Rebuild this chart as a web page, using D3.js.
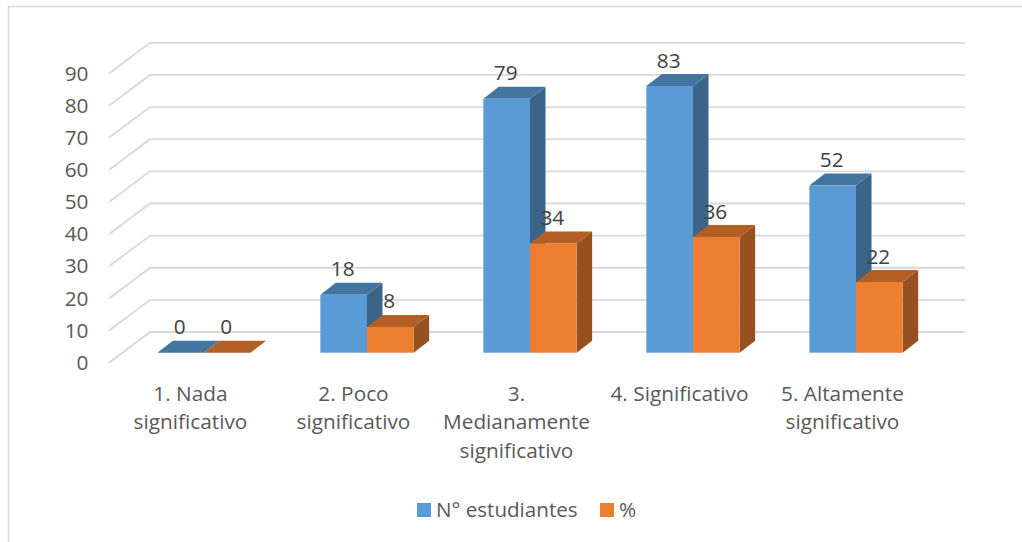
<!DOCTYPE html>
<html><head><meta charset="utf-8">
<script src="https://cdn.jsdelivr.net/npm/d3@7"></script>
<style>html,body{margin:0;padding:0;background:#fff;overflow:hidden}svg{display:block}text{font-family:"Open Sans",sans-serif}</style>
</head><body><svg id="c" width="1022" height="542"></svg>
<script>
const categories = ["1. Nada significativo","2. Poco significativo","3. Medianamente significativo","4. Significativo","5. Altamente significativo"];
const categoryLines = [["1. Nada","significativo"],["2. Poco","significativo"],["3.","Medianamente","significativo"],["4. Significativo"],["5. Altamente","significativo"]];
const students = [0,18,79,83,52];
const percent = [0,8,34,36,22];
const seriesNames = ["N° estudiantes","%"];
const yTicks = [0,10,20,30,40,50,60,70,80,90];
const fills = [{front:"#5b9bd5",top:"#4475a0",side:"#3a6589"},{front:"#ed7d31",top:"#b25e24",side:"#97501f"}];

const svg = d3.select("#c");
const FS = 20.8;
// frame
svg.append("path").attr("d","M8.5,542V6.5H1022").attr("fill","none").attr("stroke","#d9d9d9").attr("stroke-width",1.5);

// scales: front plane of the 3D box
const x0 = 109, x1 = 924, yBase = 362.7;
const x = d3.scaleBand().domain(categories).range([x0,x1]);
const xs = d3.scaleBand().domain(seriesNames).range([0,93.3]);
const unit = 3.213;
const y = d3.scaleLinear().domain([0,90]).range([yBase,yBase-90*unit]);
const dep = {dx:41,dy:-30.7};            // full box depth
const barOff = {dx:13.5,dy:-10};         // bar front plane
const barDep = {dx:15.5,dy:-12};         // bar depth

// gridlines
const grid = svg.append("g").attr("fill","none").attr("stroke","#d9d9d9").attr("stroke-width",1.8);
yTicks.forEach(t=>{
  grid.append("path").attr("d",`M${x0},${y(t)}L${x0+dep.dx},${y(t)+dep.dy}H${x1+dep.dx}`);
});

// y axis
const ax = svg.append("g").attr("transform","translate(88.5,0)")
  .call(d3.axisLeft(y).tickValues(yTicks).tickSize(0).tickPadding(0));
ax.select(".domain").remove();
ax.selectAll("text").attr("font-size",FS).attr("fill","#595959").style("font-family",'"Open Sans",sans-serif');

// bars
const bars = svg.append("g");
const labels = [];
categories.forEach((c,i)=>{
  const cx = x(c)+x.bandwidth()/2+barOff.dx;
  [students[i],percent[i]].forEach((v,k)=>{
    const bw = xs.bandwidth();
    const xl = cx-xs.bandwidth()+xs(seriesNames[k]);
    const xr = xl+bw;
    const yb = y(0)+barOff.dy, yt = y(v)+barOff.dy;
    const f = fills[k];
    bars.append("path").attr("fill",f.side)
      .attr("d",`M${xr},${yb}V${yt}l${barDep.dx},${barDep.dy}V${yb+barDep.dy}Z`);
    bars.append("path").attr("fill",f.top)
      .attr("d",`M${xl},${yt}H${xr}l${barDep.dx},${barDep.dy}H${xl+barDep.dx}Z`);
    bars.append("rect").attr("fill",f.front).attr("x",xl).attr("y",yt).attr("width",bw).attr("height",yb-yt);
    labels.push({x:(xl+xr)/2-1,y:yt-26.5,v});
  });
});
svg.append("g").selectAll("text").data(labels).join("text")
  .attr("x",d=>d.x).attr("y",d=>d.y).attr("text-anchor","middle").attr("dominant-baseline","central")
  .attr("font-size",FS).attr("fill","#404040").text(d=>d.v);

// category labels
const cat = svg.append("g");
categories.forEach((c,i)=>{
  categoryLines[i].forEach((ln,j)=>{
    cat.append("text").attr("x",x(c)+x.bandwidth()/2).attr("y",392.5+j*28.6)
      .attr("text-anchor","middle").attr("dominant-baseline","central")
      .attr("font-size",FS).attr("fill","#595959").text(ln);
  });
});

// legend
const legendX = [417,600];
seriesNames.forEach((n,k)=>{
  svg.append("rect").attr("x",legendX[k]).attr("y",503).attr("width",14).attr("height",14).attr("fill",fills[k].front);
  svg.append("text").attr("x",legendX[k]+19).attr("y",509).attr("dominant-baseline","central")
    .attr("font-size",k===0?20.6:FS).attr("fill","#595959").text(n);
});
</script></body></html>
